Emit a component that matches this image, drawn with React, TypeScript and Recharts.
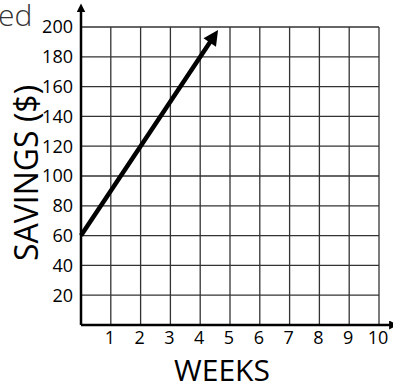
import { LineChart, Line, XAxis, YAxis, CartesianGrid, ReferenceLine, Customized } from "recharts";

// Values
const weeks = [0, 4.4];
const savings = [60, 192];
const weekTicks = [1, 2, 3, 4, 5, 6, 7, 8, 9, 10];
const savingsTicks = [20, 40, 60, 80, 100, 120, 140, 160, 180, 200];

const data = weeks.map((w, i) => ({ week: w, savings: savings[i] }));

const FONT = "'Open Sans', 'DejaVu Sans', sans-serif";

const Defs = () => (
  <defs>
    <marker id="bigArrow" viewBox="0 0 14 14" refX="4" refY="7" markerWidth="16" markerHeight="15" markerUnits="userSpaceOnUse" orient="auto">
      <path d="M0,0 L14,7 L0,14 z" fill="#000" />
    </marker>
    <marker id="axisArrow" viewBox="0 0 10 10" refX="2" refY="5" markerWidth="9" markerHeight="9" markerUnits="userSpaceOnUse" orient="auto">
      <path d="M0,0 L10,5 L0,10 z" fill="#000" />
    </marker>
  </defs>
);

export default function App() {
  return (
    <div style={{ position: "absolute", left: 0, top: 0, width: 393, height: 387, background: "#fff" }}>
      <LineChart width={393} height={387} data={data} margin={{ top: 27, right: 14, bottom: 0, left: 0 }}>
        <Customized component={Defs} />
        <CartesianGrid stroke="#333" strokeWidth={1.3} />
        <XAxis
          dataKey="week"
          type="number"
          domain={[0, 10]}
          ticks={weekTicks}
          height={62}
          axisLine={false}
          tickLine={false}
          tickSize={0}
          tickMargin={6}
          tick={{ fill: "#000", fontSize: 18, fontFamily: FONT, dx: -1 }}
          label={({ viewBox }: any) => (
            <text x={viewBox.x + viewBox.width / 2 - 8} y={viewBox.y + 56} textAnchor="middle" fill="#000" fontSize={30} fontFamily={FONT}>
              WEEKS
            </text>
          )}
        />
        <YAxis
          type="number"
          domain={[0, 200]}
          ticks={savingsTicks}
          width={81}
          axisLine={false}
          tickLine={false}
          tickSize={0}
          tickMargin={8}
          tick={{ fill: "#000", fontSize: 18, fontFamily: FONT }}
          label={({ viewBox }: any) => {
            const x = viewBox.x + 25;
            const y = viewBox.y + viewBox.height / 2 - 3;
            return (
              <g>
                <text x={-2} y={26} fill="#333" fontSize={30} fontWeight={300} fontFamily={FONT}>ed</text>
                <text x={x} y={y} transform={`rotate(-90, ${x}, ${y})`} textAnchor="middle" dominantBaseline="central" fill="#000" fontSize={32} fontFamily={FONT}>
                  SAVINGS ($)
                </text>
              </g>
            );
          }}
        />
        <ReferenceLine segment={[{ x: 0, y: 0 }, { x: 0, y: 211 }]} ifOverflow="visible" stroke="#000" strokeWidth={2.5} markerEnd="url(#axisArrow)" />
        <ReferenceLine segment={[{ x: 0, y: 0 }, { x: 10.4, y: 0 }]} ifOverflow="visible" stroke="#000" strokeWidth={2.5} markerEnd="url(#axisArrow)" />
        <Line
          dataKey="savings"
          stroke="#000"
          strokeWidth={4.5}
          dot={false}
          activeDot={false}
          isAnimationActive={false}
          markerEnd="url(#bigArrow)"
        />
      </LineChart>
    </div>
  );
}
